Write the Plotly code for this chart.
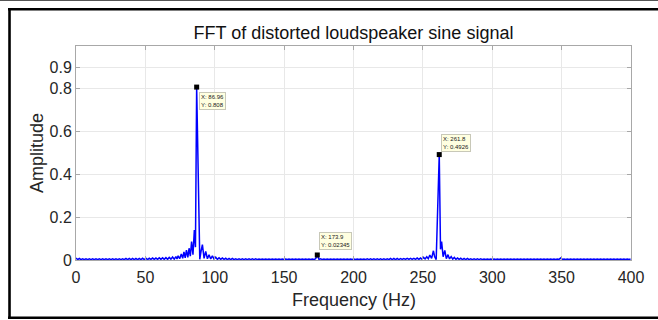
import plotly.graph_objects as go

# ---------------- data ----------------
freq_a = [0.0, 1.2, 2.4, 3.6, 4.8, 6.0, 7.2, 8.4, 9.6, 10.8,
          12.0, 13.2, 14.4, 15.6, 16.8, 18.0, 19.2, 20.4, 21.6, 22.8,
          24.0, 25.2, 26.4, 27.6, 28.8, 30.0, 31.2, 32.4, 33.6, 34.8,
          36.0, 37.2, 38.4, 39.6, 40.8, 42.0, 43.2, 44.4, 45.6, 46.8,
          48.0, 49.2, 50.4, 51.6, 52.8, 54.0, 55.2, 56.4, 57.6, 58.8,
          60.0, 61.2, 62.4, 63.6, 64.8, 66.0, 67.2, 68.4, 69.6, 70.8,
          72.0]
amp_a = [0.009, 0.002, 0.007, 0.002, 0.006, 0.002, 0.006, 0.002, 0.006, 0.002,
         0.006, 0.002, 0.006, 0.002, 0.006, 0.002, 0.006, 0.002, 0.006, 0.002,
         0.006, 0.002, 0.006, 0.002, 0.006, 0.002, 0.006, 0.002, 0.006, 0.002,
         0.007, 0.002, 0.007, 0.002, 0.007, 0.002, 0.007, 0.002, 0.007, 0.002,
         0.008, 0.002, 0.008, 0.002, 0.008, 0.003, 0.009, 0.003, 0.009, 0.003,
         0.010, 0.003, 0.010, 0.003, 0.011, 0.003, 0.012, 0.004, 0.014, 0.004,
         0.016]

freq_b = [72.8, 73.6, 74.7, 75.9, 76.9, 77.8, 78.7, 79.6, 80.6, 81.5,
          82.4, 83.3, 84.3, 85.3, 86.1, 86.96, 88.1, 89.2, 90.1, 91.1,
          92.3, 93.5, 94.7, 95.9, 97.1, 98.3, 99.5, 100.7, 101.9, 103.1,
          104.3, 105.5, 106.7, 107.9, 109.1, 110.3]
amp_b = [0.005, 0.020, 0.006, 0.028, 0.008, 0.038, 0.010, 0.046, 0.012, 0.055,
         0.018, 0.086, 0.025, 0.140, 0.060, 0.808, 0.280, 0.003, 0.040, 0.072,
         0.008, 0.040, 0.006, 0.024, 0.005, 0.019, 0.004, 0.013, 0.003, 0.010,
         0.003, 0.009, 0.003, 0.008, 0.002, 0.007]

freq_c = [111.5, 112.7, 113.9, 115.1, 116.3, 117.5, 118.7, 119.9, 121.1, 122.3,
          123.5, 124.7, 125.9, 127.1, 128.3, 129.5, 130.7, 131.9, 133.1, 134.3,
          135.5, 136.7, 137.9, 139.1, 140.3, 141.5, 142.7, 143.9, 145.1, 146.3,
          147.5, 148.7, 149.9, 151.1, 152.3, 153.5, 154.7, 155.9, 157.1, 158.3,
          159.5, 160.7, 161.9, 163.1, 164.3, 165.5, 166.7, 167.9, 169.1, 170.3,
          171.5]
amp_c = [0.002, 0.007, 0.002, 0.006, 0.002, 0.006, 0.002, 0.006, 0.002, 0.006,
         0.002, 0.006, 0.002, 0.006, 0.002, 0.006, 0.002, 0.005, 0.002, 0.005,
         0.002, 0.005, 0.002, 0.005, 0.002, 0.005, 0.002, 0.005, 0.002, 0.005,
         0.002, 0.005, 0.002, 0.005, 0.002, 0.005, 0.002, 0.005, 0.002, 0.005,
         0.002, 0.005, 0.002, 0.005, 0.002, 0.005, 0.002, 0.005, 0.002, 0.005,
         0.002]

freq_h2 = [172.7, 173.9, 175.1]
amp_h2 = [0.006, 0.02345, 0.003]

freq_d = [176.3, 177.5, 178.7, 179.9, 181.1, 182.3, 183.5, 184.7, 185.9, 187.1,
          188.3, 189.5, 190.7, 191.9, 193.1, 194.3, 195.5, 196.7, 197.9, 199.1,
          200.3, 201.5, 202.7, 203.9, 205.1, 206.3, 207.5, 208.7, 209.9, 211.1,
          212.3, 213.5, 214.7, 215.9, 217.1, 218.3, 219.5, 220.7, 221.9, 223.1,
          224.3, 225.5, 226.7, 227.9, 229.1, 230.3, 231.5, 232.7, 233.9, 235.1,
          236.3, 237.5, 238.7, 239.9, 241.1, 242.3, 243.5, 244.7, 245.9, 247.1,
          248.3]
amp_d = [0.006, 0.002, 0.005, 0.002, 0.005, 0.002, 0.005, 0.002, 0.005, 0.002,
         0.005, 0.002, 0.005, 0.002, 0.005, 0.002, 0.005, 0.002, 0.005, 0.002,
         0.005, 0.002, 0.005, 0.002, 0.005, 0.002, 0.005, 0.002, 0.006, 0.002,
         0.006, 0.002, 0.006, 0.002, 0.006, 0.002, 0.006, 0.002, 0.006, 0.002,
         0.006, 0.002, 0.007, 0.002, 0.007, 0.002, 0.007, 0.002, 0.007, 0.003,
         0.007, 0.003, 0.008, 0.003, 0.008, 0.003, 0.008, 0.003, 0.009, 0.003,
         0.009]

freq_e = [249.3, 250.5, 251.6, 252.8, 253.9, 255.0, 256.3, 257.6, 258.5, 259.6,
          261.8, 262.7, 263.5, 264.6, 265.8, 266.9, 268.1, 269.2, 270.4, 271.5,
          272.7, 273.8, 275.0, 276.1, 277.3, 278.5]
amp_e = [0.004, 0.012, 0.005, 0.015, 0.006, 0.023, 0.008, 0.043, 0.015, 0.002,
         0.4926, 0.050, 0.086, 0.015, 0.045, 0.006, 0.025, 0.005, 0.016, 0.004,
         0.012, 0.003, 0.009, 0.003, 0.008, 0.002]

freq_f = [279.7, 280.9, 282.1, 283.3, 284.5, 285.7, 286.9, 288.1, 289.3, 290.5,
          291.7, 292.9, 294.1, 295.3, 296.5, 297.7, 298.9, 300.1, 301.3, 302.5,
          303.7, 304.9, 306.1, 307.3, 308.5, 309.7, 310.9, 312.1, 313.3, 314.5,
          315.7, 316.9, 318.1, 319.3, 320.5, 321.7, 322.9, 324.1, 325.3, 326.5,
          327.7, 328.9, 330.1, 331.3, 332.5, 333.7, 334.9, 336.1, 337.3, 338.5,
          339.7, 340.9, 342.1, 343.3, 344.5, 345.7, 346.9, 348.1, 349.3, 350.5,
          351.7, 352.9, 354.1, 355.3, 356.5, 357.7, 358.9, 360.1, 361.3, 362.5,
          363.7, 364.9, 366.1, 367.3, 368.5, 369.7, 370.9, 372.1, 373.3, 374.5,
          375.7, 376.9, 378.1, 379.3, 380.5, 381.7, 382.9, 384.1, 385.3, 386.5,
          387.7, 388.9, 390.1, 391.3, 392.5, 393.7, 394.9, 396.1, 397.3, 398.5,
          399.7]
amp_f = [0.007, 0.002, 0.007, 0.002, 0.006, 0.002, 0.006, 0.002, 0.006, 0.002,
         0.006, 0.002, 0.005, 0.002, 0.005, 0.002, 0.005, 0.002, 0.005, 0.002,
         0.005, 0.002, 0.005, 0.002, 0.005, 0.002, 0.005, 0.002, 0.005, 0.002,
         0.005, 0.002, 0.005, 0.002, 0.005, 0.002, 0.005, 0.002, 0.005, 0.002,
         0.005, 0.002, 0.005, 0.002, 0.005, 0.002, 0.005, 0.002, 0.005, 0.002,
         0.005, 0.002, 0.005, 0.002, 0.005, 0.002, 0.005, 0.003, 0.009, 0.003,
         0.005, 0.002, 0.005, 0.002, 0.005, 0.002, 0.005, 0.002, 0.005, 0.002,
         0.005, 0.002, 0.005, 0.002, 0.005, 0.002, 0.005, 0.002, 0.005, 0.002,
         0.005, 0.002, 0.005, 0.002, 0.005, 0.002, 0.005, 0.002, 0.005, 0.002,
         0.005, 0.002, 0.005, 0.002, 0.005, 0.002, 0.005, 0.002, 0.005, 0.002,
         0.005]

tip_x = [86.96, 173.9, 261.8]
tip_y = [0.808, 0.02345, 0.4926]
tip_text = ["X: 86.96<br>Y: 0.808", "X: 173.9<br>Y: 0.02345", "X: 261.8<br>Y: 0.4926"]

x_ticks = [0, 50, 100, 150, 200, 250, 300, 350, 400]
y_ticks = [0, 0.2, 0.4, 0.6, 0.8, 0.9]
y_tick_labels = ["0", "0.2", "0.4", "0.6", "0.8", "0.9"]

# ---------------- assemble ----------------
freq = freq_a + freq_b + freq_c + freq_h2 + freq_d + freq_e + freq_f
amp = amp_a + amp_b + amp_c + amp_h2 + amp_d + amp_e + amp_f
assert len(freq) == len(amp)

FONT = "Liberation Sans, Arial, Helvetica, sans-serif"
AX_COLOR = "#262626"

fig = go.Figure()
fig.add_trace(go.Scatter(x=freq, y=amp, mode="lines",
                         line=dict(color="#0000ff", width=1.5),
                         hoverinfo="skip", showlegend=False))
fig.add_trace(go.Scatter(x=tip_x, y=tip_y, mode="markers",
                         marker=dict(symbol="square", size=5, color="black"),
                         showlegend=False, hoverinfo="skip"))

# Data-tip boxes
tip_anchor = [("top", -5), ("bottom", 5), ("bottom", 3)]
for xv, yv, txt, (ya, ys) in zip(tip_x, tip_y, tip_text, tip_anchor):
    fig.add_annotation(x=xv, y=yv, xref="x", yref="y", text=txt, showarrow=False,
                       xanchor="left", yanchor=ya, xshift=2, yshift=ys, align="left",
                       font=dict(family=FONT, size=6, color="#202020"),
                       bgcolor="#ffffe0", bordercolor="#c8c8b8", borderwidth=1, borderpad=1)

# Axis titles
fig.add_annotation(x=0.5, y=-0.187, xref="paper", yref="paper", text="Frequency (Hz)",
                   showarrow=False, xanchor="center", yanchor="middle",
                   font=dict(family=FONT, size=18, color=AX_COLOR))
fig.add_annotation(x=-0.0703, y=0.5, xref="paper", yref="paper", text="Amplitude",
                   showarrow=False, xanchor="center", yanchor="middle", textangle=-90,
                   font=dict(family=FONT, size=18, color=AX_COLOR))

# Outer frame lines
frame = [
    dict(x0=-0.2, x1=1.1, y0=1.2126, y1=1.2126, color="#555555", width=1),
    dict(x0=-0.1225, x1=1.1, y0=1.1715, y1=1.1715, color="black", width=2.6),
    dict(x0=-0.1198, x1=-0.1198, y0=1.176, y1=-0.274, color="black", width=2.6),
    dict(x0=-0.1225, x1=1.1, y0=-0.2696, y1=-0.2696, color="black", width=2.6),
]
for s in frame:
    fig.add_shape(type="line", xref="paper", yref="paper",
                  x0=s["x0"], x1=s["x1"], y0=s["y0"], y1=s["y1"],
                  line=dict(color=s["color"], width=s["width"]))

axis_common = dict(showline=True, linecolor="#a8a8a8", linewidth=1, mirror="ticks",
                   ticks="inside", ticklen=4, tickcolor="#a8a8a8",
                   showgrid=True, gridcolor="#e8e8e8", gridwidth=1, zeroline=False,
                   tickfont=dict(family=FONT, size=16, color=AX_COLOR))

fig.update_layout(
    width=658, height=320,
    margin=dict(l=76, r=27, t=46, b=60),
    paper_bgcolor="white", plot_bgcolor="white",
    title=dict(text="FFT of distorted loudspeaker sine signal", x=0.5, xref="paper",
               y=1 - 33 / 320, yref="container", xanchor="center", yanchor="middle",
               font=dict(family=FONT, size=18, color="#111111")),
    xaxis=dict(range=[0, 400], tickvals=x_ticks, ticklabelstandoff=3, **axis_common),
    yaxis=dict(range=[0, 1], tickvals=y_ticks, ticktext=y_tick_labels, **axis_common),
    showlegend=False,
)

fig.write_html("out.html", config={"displayModeBar": False},
               post_script="document.body.style.margin='0';")
